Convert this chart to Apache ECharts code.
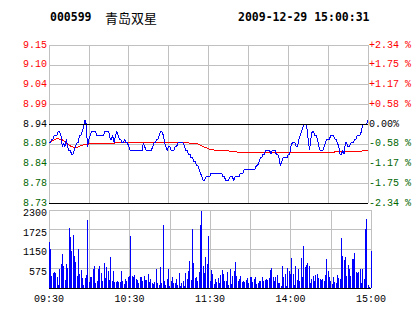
<!DOCTYPE html>
<html><head><meta charset="utf-8">
<script src="https://cdn.jsdelivr.net/npm/echarts@6/dist/echarts.min.js"></script>
<style>html,body{margin:0;padding:0;background:#fff}#c{width:414px;height:314px}#c svg path,#c svg rect,#c svg line{shape-rendering:crispEdges}</style>
</head><body><div id="c"></div>
<script>
const stockCode = '000599';
const stockName = '青岛双星';
const stamp = '2009-12-29 15:00:31';
const prevClose = 8.94;
const pctRange = 2.34;
const priceTickLabels = ['8.73','8.78','8.84','8.89','8.94','8.99','9.04','9.10','9.15'];
const pctTickLabels = ['-2.34 %','-1.75 %','-1.17 %','-0.58 %','0.00%','+0.58 %','+1.17 %','+1.75 %','+2.34 %'];
const volTickLabels = ['','575','1150','1725','2300'];
const timeTickIndex = [0, 60, 120, 180, 240];
const timeTickLabels = ['09:30','10:30','11:30','14:00','15:00'];

// minute-by-minute price (241 points, 09:30-11:30, 13:01-15:00)
const price = [
8.89,8.89,8.90,8.90,8.91,8.91,8.91,8.92,8.92,8.91,
8.88,8.89,8.88,8.90,8.88,8.87,8.87,8.86,8.86,8.87,
8.88,8.89,8.89,8.91,8.91,8.92,8.93,8.95,8.94,8.88,
8.90,8.91,8.92,8.92,8.92,8.92,8.91,8.91,8.91,8.91,
8.91,8.91,8.92,8.92,8.92,8.92,8.90,8.90,8.91,8.89,
8.91,8.92,8.91,8.90,8.90,8.89,8.89,8.90,8.89,8.89,
8.88,8.87,8.87,8.87,8.87,8.87,8.87,8.87,8.87,8.87,
8.87,8.89,8.88,8.87,8.87,8.87,8.87,8.87,8.88,8.89,
8.89,8.90,8.90,8.91,8.92,8.92,8.91,8.89,8.88,8.87,
8.88,8.88,8.87,8.87,8.87,8.88,8.88,8.89,8.89,8.89,
8.89,8.89,8.88,8.87,8.87,8.86,8.86,8.85,8.85,8.84,
8.84,8.83,8.83,8.82,8.81,8.80,8.79,8.79,8.80,8.80,
8.80,8.80,8.81,8.81,8.81,8.81,8.81,8.81,8.81,8.81,
8.81,8.80,8.80,8.79,8.79,8.79,8.80,8.80,8.80,8.79,
8.80,8.80,8.80,8.80,8.81,8.81,8.81,8.82,8.82,8.82,
8.82,8.82,8.82,8.82,8.82,8.82,8.83,8.83,8.84,8.85,
8.85,8.86,8.86,8.87,8.87,8.87,8.87,8.86,8.87,8.87,
8.87,8.86,8.86,8.85,8.83,8.84,8.85,8.85,8.85,8.85,
8.86,8.86,8.88,8.89,8.89,8.89,8.88,8.88,8.90,8.91,
8.92,8.93,8.94,8.94,8.93,8.90,8.87,8.90,8.92,8.92,
8.91,8.91,8.90,8.88,8.87,8.87,8.87,8.88,8.89,8.90,
8.90,8.90,8.91,8.91,8.91,8.90,8.90,8.89,8.88,8.86,
8.86,8.87,8.86,8.89,8.89,8.88,8.88,8.89,8.89,8.89,
8.90,8.90,8.91,8.91,8.91,8.92,8.94,8.94,8.94,8.94,
8.95
];

// average price line
const avgPrice = [
8.890,8.892,8.894,8.896,8.898,8.900,8.901,8.901,8.900,8.899,
8.898,8.896,8.894,8.891,8.886,8.884,8.882,8.880,8.879,8.879,
8.879,8.879,8.879,8.881,8.883,8.884,8.885,8.886,8.887,8.887,
8.887,8.888,8.888,8.888,8.888,8.888,8.888,8.888,8.888,8.889,
8.889,8.889,8.889,8.889,8.889,8.889,8.889,8.889,8.889,8.889,
8.890,8.890,8.890,8.890,8.890,8.890,8.890,8.890,8.890,8.890,
8.891,8.891,8.891,8.891,8.891,8.891,8.891,8.891,8.891,8.891,
8.891,8.891,8.891,8.891,8.891,8.891,8.891,8.891,8.891,8.891,
8.891,8.891,8.891,8.891,8.891,8.891,8.891,8.891,8.891,8.891,
8.891,8.891,8.891,8.891,8.891,8.891,8.891,8.891,8.891,8.891,
8.891,8.891,8.890,8.890,8.890,8.890,8.889,8.889,8.889,8.889,
8.888,8.888,8.887,8.886,8.884,8.882,8.880,8.878,8.877,8.876,
8.874,8.873,8.872,8.872,8.871,8.871,8.871,8.871,8.871,8.871,
8.870,8.870,8.870,8.870,8.869,8.869,8.868,8.868,8.867,8.867,
8.866,8.866,8.865,8.865,8.864,8.864,8.864,8.864,8.864,8.864,
8.864,8.864,8.864,8.864,8.864,8.864,8.864,8.864,8.864,8.864,
8.864,8.864,8.864,8.864,8.864,8.864,8.864,8.864,8.864,8.864,
8.864,8.864,8.864,8.864,8.864,8.864,8.864,8.864,8.864,8.864,
8.864,8.864,8.864,8.864,8.864,8.864,8.864,8.864,8.864,8.864,
8.865,8.865,8.865,8.865,8.865,8.865,8.865,8.865,8.865,8.865,
8.865,8.865,8.865,8.865,8.865,8.865,8.865,8.865,8.865,8.865,
8.865,8.865,8.865,8.865,8.865,8.866,8.866,8.866,8.866,8.866,
8.866,8.866,8.867,8.867,8.867,8.867,8.867,8.867,8.867,8.867,
8.867,8.867,8.868,8.868,8.868,8.868,8.869,8.869,8.869,8.869,
8.870
];

// volume per minute
const volume = [
1357,1160,354,452,472,432,324,88,550,708,
1003,649,236,708,590,1769,1514,1101,1573,954,
767,354,1160,413,531,295,88,295,374,2005,
177,334,334,550,649,138,216,550,649,432,
197,727,295,609,491,236,904,216,491,177,
177,197,177,177,491,197,118,255,216,315,
354,1533,354,315,374,275,236,138,315,315,
216,354,236,236,413,177,255,157,118,177,
550,138,79,609,157,1848,197,79,275,550,
59,197,315,157,138,255,98,452,59,138,
197,59,432,275,491,786,236,1730,727,295,
315,216,472,1848,2261,649,452,904,708,1533,
216,531,413,118,275,177,295,157,393,531,
413,197,197,472,98,570,118,354,511,767,
354,197,255,354,177,216,177,236,295,157,
334,315,177,255,334,118,157,197,197,334,
197,236,275,236,295,531,590,334,216,315,
393,138,138,59,649,334,413,59,590,511,
413,885,413,98,649,236,570,197,885,315,
1239,629,688,727,649,157,275,354,216,393,
413,295,275,236,275,216,393,845,491,334,
197,118,334,177,157,374,295,275,1475,944,
826,924,354,668,570,354,865,865,1042,472,
432,472,570,138,570,255,1730,2025,79,20,
1101
];

const RED = '#ff0000', GREEN = '#006600', GRID = '#c0c0c0';
const FONT = 'Liberation Mono';
const toPct = p => (p / prevClose - 1) * 100;
const step = pctRange / 4;
const tickIdx = v => Math.round((v + pctRange) / step);
const tone = k => (k > 4 ? 'up' : (k < 4 ? 'dn' : 'eq'));
const richStyles = {
  up: {color: RED, fontFamily: FONT, fontSize: 10},
  dn: {color: GREEN, fontFamily: FONT, fontSize: 10},
  eq: {color: '#000', fontFamily: FONT, fontSize: 10}
};

const chart = echarts.init(document.getElementById('c'), null, {renderer: 'svg'});
chart.setOption({
  animation: false,
  backgroundColor: '#fff',
  graphic: [
    {type: 'text', x: 50, y: 17, style: {text: stockCode, font: 'bold 11.5px "DejaVu Sans Mono"', fill: '#000', verticalAlign: 'middle'}},
    {type: 'text', x: 105, y: 17, style: {text: stockName, font: '13px "Noto Sans CJK SC"', fill: '#000', verticalAlign: 'middle'}},
    {type: 'text', x: 238, y: 17, style: {text: stamp, font: 'bold 11.5px "DejaVu Sans Mono"', fill: '#000', verticalAlign: 'middle'}}
  ],
  grid: [
    {left: 49, right: 43, top: 45, height: 158},
    {left: 49, right: 43, top: 210, height: 78}
  ],
  xAxis: [
    {type: 'value', gridIndex: 0, min: 0, max: 240, interval: 30,
     axisLine: {show: true, onZero: false, lineStyle: {color: '#000', width: 1}},
     axisTick: {show: false}, axisLabel: {show: false},
     splitLine: {show: true, lineStyle: {color: GRID, width: 1}}},
    {type: 'value', gridIndex: 1, min: 0, max: 240, interval: 30,
     axisLine: {show: true, onZero: false, lineStyle: {color: '#000', width: 1}},
     axisTick: {show: false},
     axisLabel: {show: true, margin: 6, color: '#000', fontFamily: FONT, fontSize: 10,
       formatter: v => { const k = timeTickIndex.indexOf(Math.round(v)); return k >= 0 ? timeTickLabels[k] : ''; }},
     splitLine: {show: true, lineStyle: {color: GRID, width: 1}}}
  ],
  yAxis: [
    {type: 'value', gridIndex: 0, position: 'left', min: -pctRange, max: pctRange, interval: step,
     axisLine: {show: true, lineStyle: {color: GRID}}, axisTick: {show: false},
     splitLine: {show: true, lineStyle: {color: GRID, width: 1}},
     axisLabel: {margin: 2, fontFamily: FONT, fontSize: 10, rich: richStyles,
       formatter: v => { const k = tickIdx(v); return priceTickLabels[k] ? '{' + tone(k) + '|' + priceTickLabels[k] + '}' : ''; }}},
    {type: 'value', gridIndex: 0, position: 'right', min: -pctRange, max: pctRange, interval: step,
     axisLine: {show: true, lineStyle: {color: GRID}}, axisTick: {show: false},
     splitLine: {show: false},
     axisLabel: {margin: 1, fontFamily: FONT, fontSize: 10, rich: richStyles,
       formatter: v => { const k = tickIdx(v); return pctTickLabels[k] ? '{' + tone(k) + '|' + pctTickLabels[k] + '}' : ''; }}},
    {type: 'value', gridIndex: 1, position: 'left', min: 0, max: 2300, interval: 575,
     axisLine: {show: true, lineStyle: {color: GRID}}, axisTick: {show: false},
     splitLine: {show: true, lineStyle: {color: GRID, width: 1}},
     axisLabel: {margin: 2, fontFamily: FONT, fontSize: 10, color: '#000', verticalAlign: 'top', lineHeight: 7,
       formatter: v => volTickLabels[Math.round(v / 575)] || ''}},
    {type: 'value', gridIndex: 1, position: 'right', min: 0, max: 2300, interval: 575,
     axisLine: {show: true, lineStyle: {color: GRID}}, axisTick: {show: false},
     splitLine: {show: false}, axisLabel: {show: false}}
  ],
  series: [
    {type: 'line', xAxisIndex: 0, yAxisIndex: 0, showSymbol: false, symbol: 'none',
     data: avgPrice.map((p, i) => [i, toPct(p)]),
     lineStyle: {color: RED, width: 1}, itemStyle: {color: RED}, z: 3},
    {type: 'line', xAxisIndex: 0, yAxisIndex: 0, showSymbol: false, symbol: 'none',
     data: price.map((p, i) => [i, toPct(p)]),
     lineStyle: {color: '#0000ff', width: 1}, itemStyle: {color: '#0000ff'}, z: 4,
     markLine: {silent: true, symbol: ['none', 'none'], label: {show: false},
       lineStyle: {color: '#000', type: 'solid', width: 1}, data: [{yAxis: 0}]}},
    {type: 'bar', xAxisIndex: 1, yAxisIndex: 2, barWidth: 1,
     data: volume.map((v, i) => [i, v]),
     itemStyle: {color: '#0000ff'}}
  ]
});
</script></body></html>
